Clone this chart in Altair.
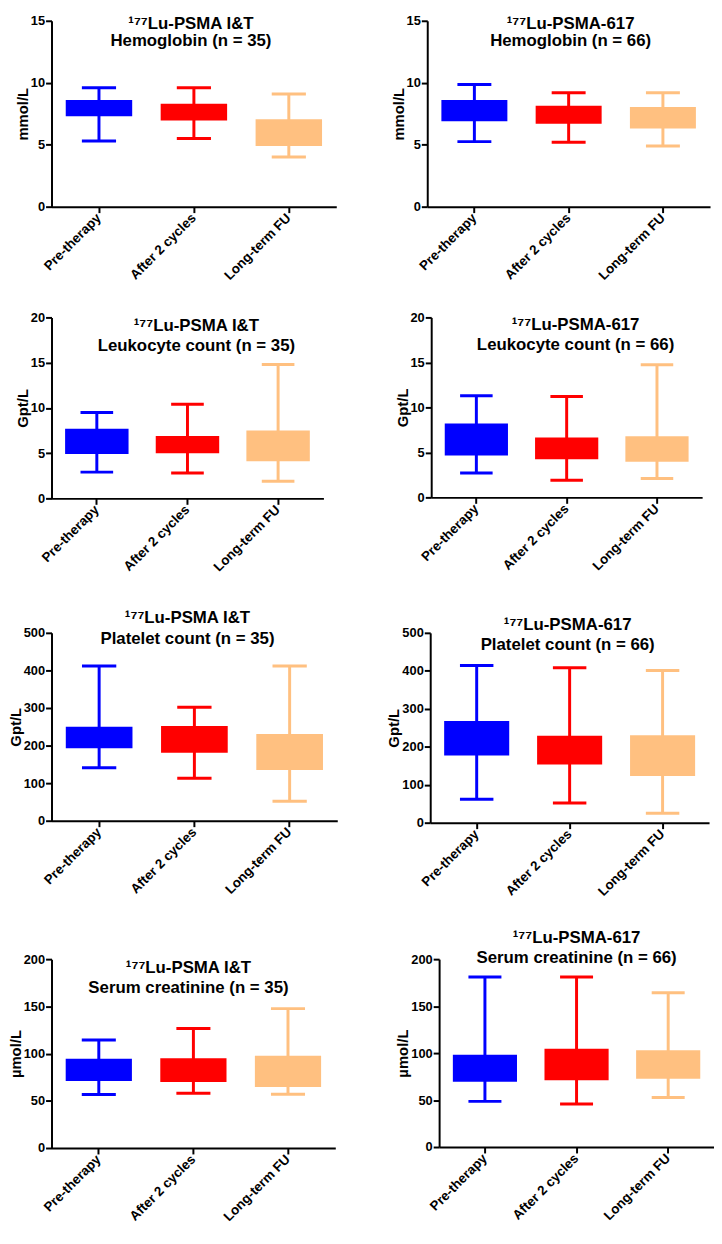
import altair as alt
import pandas as pd

groups = ["Pre-therapy", "After 2 cycles", "Long-term FU"]
box_colors = ["#0000FF", "#FF0000", "#FFC080"]

# Hemoglobin (mmol/L), 177Lu-PSMA I&T, n = 35
hb_it_min = [5.3, 5.5, 4.0]
hb_it_q1 = [7.3, 6.95, 4.9]
hb_it_q3 = [8.6, 8.3, 7.05]
hb_it_max = [9.6, 9.6, 9.1]
# Hemoglobin (mmol/L), 177Lu-PSMA-617, n = 66
hb_617_min = [5.25, 5.2, 4.9]
hb_617_q1 = [6.9, 6.7, 6.3]
hb_617_q3 = [8.6, 8.15, 8.05]
hb_617_max = [9.85, 9.2, 9.2]
# Leukocyte count (Gpt/L), I&T
wbc_it_min = [2.9, 2.8, 1.9]
wbc_it_q1 = [4.9, 5.0, 4.1]
wbc_it_q3 = [7.7, 6.9, 7.5]
wbc_it_max = [9.5, 10.4, 14.8]
# Leukocyte count (Gpt/L), 617
wbc_617_min = [2.7, 1.9, 2.1]
wbc_617_q1 = [4.65, 4.25, 3.95]
wbc_617_q3 = [8.2, 6.65, 6.8]
wbc_617_max = [11.3, 11.2, 14.75]
# Platelet count (Gpt/L), I&T
plt_it_min = [141, 113, 52]
plt_it_q1 = [193, 181, 135]
plt_it_q3 = [250, 252, 231]
plt_it_max = [412, 302, 412]
# Platelet count (Gpt/L), 617
plt_617_min = [62, 52, 25]
plt_617_q1 = [177, 153, 123]
plt_617_q3 = [268, 229, 230]
plt_617_max = [414, 408, 401]
# Serum creatinine (µmol/L), I&T
crea_it_min = [56.6, 58, 57]
crea_it_q1 = [71, 70, 64.7]
crea_it_q3 = [94.4, 95.1, 97.6]
crea_it_max = [114.3, 126.6, 147.6]
# Serum creatinine (µmol/L), 617
crea_617_min = [48.6, 45.8, 52.8]
crea_617_q1 = [69.6, 71, 72.7]
crea_617_q3 = [98.3, 104.5, 103.1]
crea_617_max = [181, 181, 164.3]

FONT = "Liberation Sans"


def panel(line1, line2, unit, mins, q1s, q3s, maxs, ymax, ystep, w, h, tdx, tdy, lh=20):
    df = pd.DataFrame({"group": groups, "lo": mins, "q1": q1s, "q3": q3s, "hi": maxs})
    step = w / 3.0
    x = alt.X(
        "group:N",
        sort=groups,
        scale=alt.Scale(domain=groups, paddingInner=0, paddingOuter=0),
        axis=alt.Axis(
            title=None,
            labelAngle=-45,
            labelAlign="right",
            labelBaseline="middle",
            labelFontSize=13.5,
            labelPadding=3,
        ),
    )
    yaxis = alt.Axis(
        title=unit,
        values=list(range(0, ymax + 1, ystep)),
        labelFontSize=13,
        titleFontSize=15,
        labelPadding=1,
    )
    yscale = alt.Scale(domain=[0, ymax], nice=False, zero=True)
    color = alt.Color("group:N", scale=alt.Scale(domain=groups, range=box_colors), legend=None)
    base = alt.Chart(df).encode(x=x, color=color)
    whisk = base.mark_rule(strokeWidth=3, opacity=1).encode(
        y=alt.Y("lo:Q", scale=yscale, axis=yaxis), y2="hi:Q"
    )
    box = base.mark_bar(width=alt.RelativeBandSize(0.7), opacity=1).encode(
        y=alt.Y("q1:Q", scale=yscale, axis=yaxis), y2="q3:Q"
    )
    cap_lo = base.mark_tick(size=0.36 * step, thickness=3, opacity=1).encode(
        y=alt.Y("lo:Q", scale=yscale, axis=yaxis)
    )
    cap_hi = base.mark_tick(size=0.36 * step, thickness=3, opacity=1).encode(
        y=alt.Y("hi:Q", scale=yscale, axis=yaxis)
    )
    return alt.layer(whisk, box, cap_lo, cap_hi).properties(
        width=w,
        height=h,
        title=alt.TitleParams(
            text=[line1, line2],
            font=FONT,
            fontSize=17,
            fontWeight="bold",
            color="black",
            anchor="middle",
            frame="group",
            baseline="bottom",
            lineHeight=lh,
            offset=0,
            dx=tdx,
            dy=tdy,
        ),
    )


IT = "¹⁷⁷Lu-PSMA I&T"
P617 = "¹⁷⁷Lu-PSMA-617"

p1 = panel(IT, "Hemoglobin (n = 35)", "mmol/L", hb_it_min, hb_it_q1, hb_it_q3, hb_it_max, 15, 5, 288, 188, -3, 53, lh=18)
p2 = panel(P617, "Hemoglobin (n = 66)", "mmol/L", hb_617_min, hb_617_q1, hb_617_q3, hb_617_max, 15, 5, 286, 188, 2, 53, lh=18)
p3 = panel(IT, "Leukocyte count (n = 35)", "Gpt/L", wbc_it_min, wbc_it_q1, wbc_it_q3, wbc_it_max, 20, 5, 275, 183, 9, 61)
p4 = panel(P617, "Leukocyte count (n = 66)", "Gpt/L", wbc_617_min, wbc_617_q1, wbc_617_q3, wbc_617_max, 20, 5, 274, 182, 9, 60)
p5 = panel(IT, "Platelet count (n = 35)", "Gpt/L", plt_it_min, plt_it_q1, plt_it_q3, plt_it_max, 500, 100, 289, 190, -7, 38, lh=21)
p6 = panel(P617, "Platelet count (n = 66)", "Gpt/L", plt_617_min, plt_617_q1, plt_617_q3, plt_617_max, 500, 100, 282, 192, -2, 44)
p7 = panel(IT, "Serum creatinine (n = 35)", "µmol/L", crea_it_min, crea_it_q1, crea_it_q3, crea_it_max, 200, 50, 287, 191, -5, 61)
p8 = panel(P617, "Serum creatinine (n = 66)", "µmol/L", crea_617_min, crea_617_q1, crea_617_q3, crea_617_max, 200, 50, 278, 190, 0, 31)

upper = alt.vconcat(
    alt.hconcat(p1, p2, spacing=55),
    alt.hconcat(p3, p4, spacing=72),
    spacing=29,
)
lower = alt.vconcat(
    alt.hconcat(p5, p6, spacing=50),
    alt.hconcat(p7, p8, spacing=61),
    spacing=31,
)

chart = alt.vconcat(upper, lower, spacing=35).properties(padding=0).configure_view(
    stroke=None
).configure_axis(
    domainColor="black",
    domainWidth=2,
    tickColor="black",
    tickWidth=2,
    tickSize=6,
    labelFont=FONT,
    labelFontWeight="bold",
    labelColor="black",
    titleFont=FONT,
    titleFontWeight="bold",
    titleColor="black",
    titlePadding=0,
    grid=False,
)

chart.save("out.html", embed_options={"renderer": "svg", "actions": False})
